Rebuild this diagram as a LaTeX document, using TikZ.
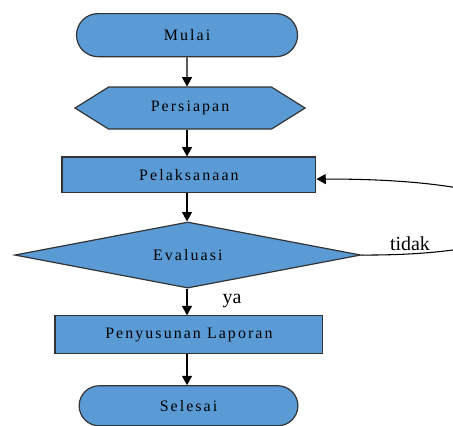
\documentclass[tikz,border=0pt]{standalone}
\usepackage{fontspec}
\setmainfont{Liberation Serif}
\newfontfamily\boxfont[LetterSpace=13]{Liberation Serif}
\usetikzlibrary{shapes.geometric, shapes.misc, shapes.symbols, arrows.meta}

\definecolor{flowblue}{RGB}{91,155,213}

\begin{document}
\begin{tikzpicture}[
  blk/.style={draw=black!80, line width=0.9pt, fill=flowblue, align=center, inner sep=0pt, font=\boxfont\fontsize{12}{14}\selectfont},
  terminal/.style={blk, rounded rectangle},
  prep/.style={blk, signal, signal to=west and east, signal pointer angle=64},
  process/.style={blk, rectangle},
  decision/.style={blk, diamond, aspect=5.2},
  lbl/.style={font=\fontsize{15}{17}\selectfont},
  >={Triangle[length=7pt, width=7.5pt]},
  every path/.append style={line width=0.8pt}
]

\useasboundingbox (0, 0) rectangle (11.99, -11.25);

\node (1) [terminal, minimum width=5.85cm, minimum height=1.14cm] at (4.95, -0.93) {Mulai};

\node (2) [prep, minimum width=6.09cm, minimum height=1.11cm] at (5.03, -2.86) {Persiapan};

\node (3) [process, minimum width=6.72cm, minimum height=0.93cm] at (5.0, -4.62) {Pelaksanaan};

\node (4) [decision, minimum width=9.16cm, minimum height=1.75cm] at (4.97, -6.75) {Evaluasi};
\node (tidak) [lbl] at (10.85, -6.45) {tidak};

\node (5) [process, minimum width=7.09cm, minimum height=1.0cm] at (5.0, -8.86) {Penyusunan Laporan};
\node (ya) [lbl] at (6.14, -7.97) {ya};

\node (6) [terminal, minimum width=5.79cm, minimum height=1.06cm] at (4.99, -10.74) {Selesai};

\draw [->] (1) -- (1 |- 2.north);
\draw [->] (2.south -| 1) -- (1 |- 3.north);
\draw [->] (3.south -| 1) -- (1 |- 4.north);
\draw [->] (4.south -| 1) -- (1 |- 5.north);
\draw [->] (5.south -| 1) -- (1 |- 6.north);
\draw [->] (4.east) .. controls (15.5, -6.78) and (15.5, -4.72) .. ([yshift=-0.12cm]3.east);

\end{tikzpicture}
\end{document}
